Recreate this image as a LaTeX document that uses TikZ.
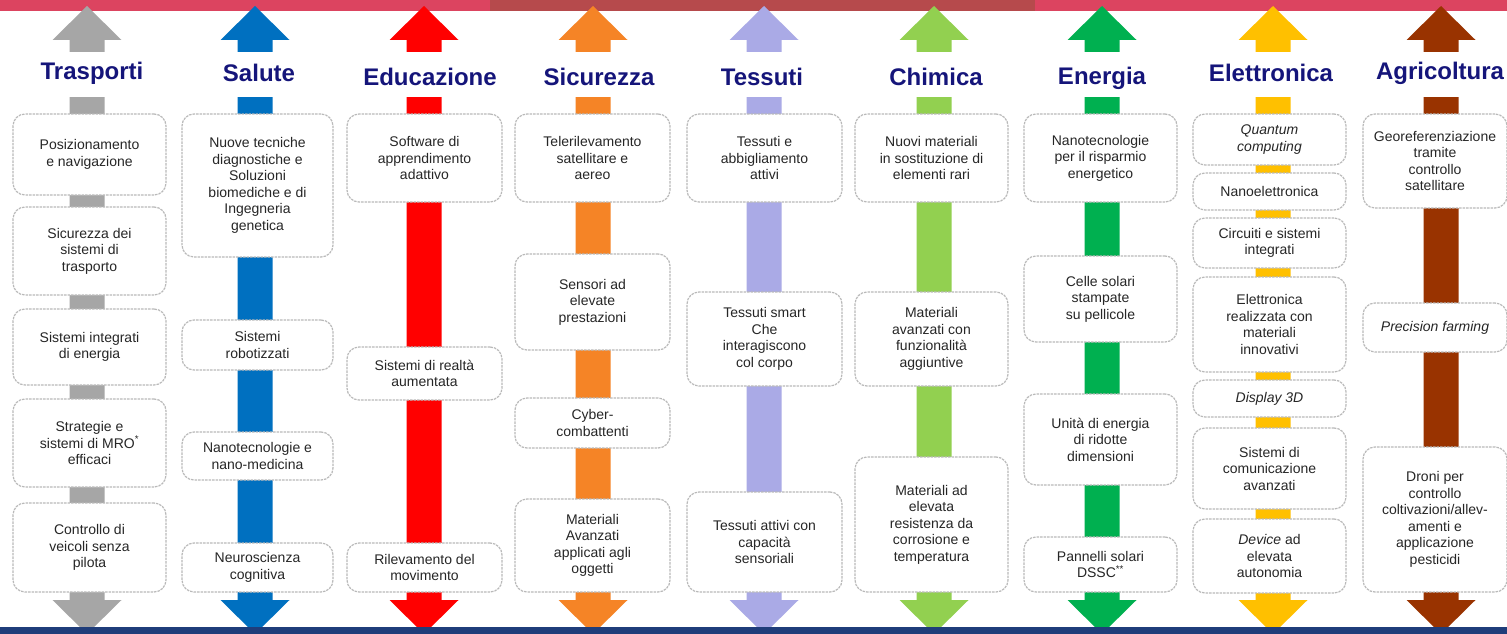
\documentclass[tikz,border=0pt]{standalone}
\usepackage{fontspec}
\setmainfont{Liberation Sans}
\definecolor{cTr}{HTML}{A6A6A6}
\definecolor{cSa}{HTML}{0070C0}
\definecolor{cEd}{HTML}{FF0000}
\definecolor{cSi}{HTML}{F58426}
\definecolor{cTe}{HTML}{AAAAE6}
\definecolor{cCh}{HTML}{92D050}
\definecolor{cEn}{HTML}{00B050}
\definecolor{cEl}{HTML}{FFC000}
\definecolor{cAg}{HTML}{993300}
\definecolor{navyT}{HTML}{15157A}
\definecolor{topbar}{HTML}{DC4460}
\definecolor{topdark}{HTML}{B64A4C}
\definecolor{botbar}{HTML}{1F3D7A}
\tikzset{
  box/.style={draw=gray!55, line width=1.2pt, dash pattern=on 2.5pt off 1pt,
    rounded corners=12pt, fill=white, inner sep=2pt, align=center,
    font=\fontsize{14}{16.5}\selectfont, text=black!85},
  ttl/.style={font=\fontsize{24}{28}\selectfont\bfseries, text=navyT, inner sep=0pt},
}
\newcommand\colarrow[2]{%
  \fill[#2] (#1-17.5,52) -- (#1-17.5,40) -- (#1-34.5,40) -- (#1,6) -- (#1+34.5,40) -- (#1+17.5,40) -- (#1+17.5,52) -- cycle;
  \fill[#2] (#1-17.5,97) -- (#1-17.5,600) -- (#1-34.5,600) -- (#1,634) -- (#1+34.5,600) -- (#1+17.5,600) -- (#1+17.5,97) -- cycle;
}
\newcommand\bx[6]{%
  \node[box, minimum width={#4-#2}, minimum height={#5-#3}] (#1) at ({(#2+#4)/2},{(#3+#5)/2}) {#6};
}
\begin{document}
\begin{tikzpicture}[x=1pt,y=-1pt]
\useasboundingbox (0,0) rectangle (1507,634);
\fill[white] (0,0) rectangle (1507,634);
% top bar
\fill[topbar] (0,0) rectangle (1507,11);
\fill[topdark] (490,0) rectangle (1035,11);
% arrows
\colarrow{87}{cTr}
\colarrow{255}{cSa}
\colarrow{424}{cEd}
\colarrow{593}{cSi}
\colarrow{764}{cTe}
\colarrow{934}{cCh}
\colarrow{1102}{cEn}
\colarrow{1273}{cEl}
\colarrow{1441}{cAg}
% bottom bar
\fill[botbar] (0,627) rectangle (1507,634);
% titles
\node[ttl] (tTr) at (92,73) {Trasporti};
\node[ttl] (tSa) at (259,73) {Salute};
\node[ttl] (tEd) at (430,77) {Educazione};
\node[ttl] (tSi) at (599,77) {Sicurezza};
\node[ttl] (tTe) at (762,77) {Tessuti};
\node[ttl] (tCh) at (936,77) {Chimica};
\node[ttl] (tEn) at (1102,78) {Energia};
\node[ttl] (tEl) at (1271,73) {Elettronica};
\node[ttl] (tAg) at (1440,73) {Agricoltura};
% Trasporti
\bx{T1}{13}{114}{166}{195}{Posizionamento\\e navigazione}
\bx{T2}{13}{207}{166}{295}{Sicurezza dei\\sistemi di\\trasporto}
\bx{T3}{13}{309}{166}{385}{Sistemi integrati\\di energia}
\bx{T4}{13}{399}{166}{487}{Strategie e\\sistemi di MRO\textsuperscript{*}\\efficaci}
\bx{T5}{13}{503}{166}{592}{Controllo di\\veicoli senza\\pilota}
% Salute
\bx{S1}{182}{114}{333}{257}{Nuove tecniche\\diagnostiche e\\Soluzioni\\biomediche e di\\Ingegneria\\genetica}
\bx{S2}{182}{320}{333}{370}{Sistemi\\robotizzati}
\bx{S3}{182}{432}{333}{480}{Nanotecnologie e\\nano-medicina}
\bx{S4}{182}{543}{333}{592}{Neuroscienza\\cognitiva}
% Educazione
\bx{E1}{347}{114}{502}{202}{Software di\\apprendimento\\adattivo}
\bx{E2}{347}{347}{502}{400}{Sistemi di realtà\\aumentata}
\bx{E3}{347}{543}{502}{592}{Rilevamento del\\movimento}
% Sicurezza
\bx{Si1}{515}{114}{670}{202}{Telerilevamento\\satellitare e\\aereo}
\bx{Si2}{515}{254}{670}{350}{Sensori ad\\elevate\\prestazioni}
\bx{Si3}{515}{398}{670}{448}{Cyber-\\combattenti}
\bx{Si4}{515}{499}{670}{592}{Materiali\\Avanzati\\applicati agli\\oggetti}
% Tessuti
\bx{Te1}{687}{114}{842}{202}{Tessuti e\\abbigliamento\\attivi}
\bx{Te2}{687}{292}{842}{386}{Tessuti smart\\Che\\interagiscono\\col corpo}
\bx{Te3}{687}{492}{842}{592}{Tessuti attivi con\\capacità\\sensoriali}
% Chimica
\bx{C1}{855}{114}{1008}{202}{Nuovi materiali\\in sostituzione di\\elementi rari}
\bx{C2}{855}{292}{1008}{386}{Materiali\\avanzati con\\funzionalità\\aggiuntive}
\bx{C3}{855}{457}{1008}{592}{Materiali ad\\elevata\\resistenza da\\corrosione e\\temperatura}
% Energia
\bx{En1}{1024}{114}{1177}{202}{Nanotecnologie\\per il risparmio\\energetico}
\bx{En2}{1024}{256}{1177}{342}{Celle solari\\stampate\\su pellicole}
\bx{En3}{1024}{394}{1177}{485}{Unità di energia\\di ridotte\\dimensioni}
\bx{En4}{1024}{537}{1177}{592}{Pannelli solari\\DSSC\textsuperscript{**}}
% Elettronica
\bx{El1}{1193}{114}{1346}{165}{\textit{Quantum}\\\textit{computing}}
\bx{El2}{1193}{173}{1346}{210}{Nanoelettronica}
\bx{El3}{1193}{218}{1346}{268}{Circuiti e sistemi\\integrati}
\bx{El4}{1193}{277}{1346}{372}{Elettronica\\realizzata con\\materiali\\innovativi}
\bx{El5}{1193}{380}{1346}{417}{\textit{Display 3D}}
\bx{El6}{1193}{428}{1346}{509}{Sistemi di\\comunicazione\\avanzati}
\bx{El7}{1193}{519}{1346}{593}{\textit{Device} ad\\elevata\\autonomia}
% Agricoltura
\bx{A1}{1363}{114}{1507}{208}{Georeferenziazione\\tramite\\controllo\\satellitare}
\bx{A2}{1363}{303}{1507}{352}{\textit{Precision farming}}
\bx{A3}{1363}{447}{1507}{592}{Droni per\\controllo\\coltivazioni/allev-\\amenti e\\applicazione\\pesticidi}
\end{tikzpicture}
\end{document}
